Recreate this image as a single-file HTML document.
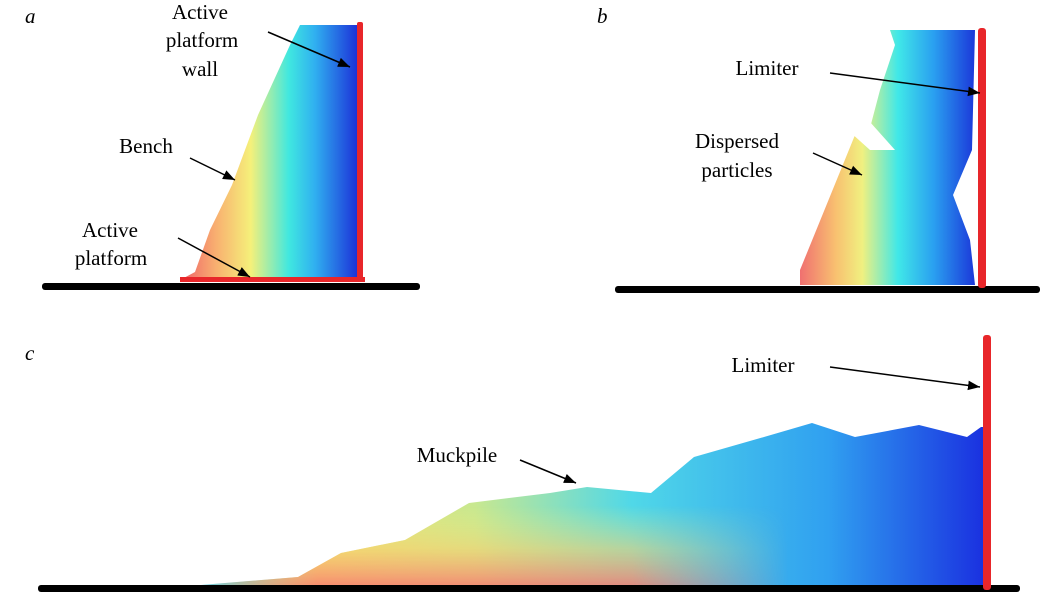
<!DOCTYPE html>
<html><head><meta charset="utf-8"><style>
html,body{margin:0;padding:0;background:#fff;}
svg{display:block;}
text{font-family:"Liberation Serif",serif;font-size:21px;fill:#000;}
</style></head><body>
<svg width="1040" height="608" viewBox="0 0 1040 608" xmlns="http://www.w3.org/2000/svg">
<defs>
<linearGradient id="ga" gradientUnits="userSpaceOnUse" x1="185" y1="0" x2="358" y2="0">
<stop offset="0" stop-color="#f06a6a"/><stop offset="0.18" stop-color="#f8b070"/><stop offset="0.38" stop-color="#f5f07a"/><stop offset="0.6" stop-color="#40e8e0"/><stop offset="0.75" stop-color="#30b0f0"/><stop offset="1" stop-color="#1c30d8"/>
</linearGradient>
<linearGradient id="gb" gradientUnits="userSpaceOnUse" x1="800" y1="0" x2="978" y2="0">
<stop offset="0" stop-color="#f07070"/><stop offset="0.2" stop-color="#f8c070"/><stop offset="0.35" stop-color="#f0f080"/><stop offset="0.55" stop-color="#40e8e8"/><stop offset="0.75" stop-color="#2aa0f0"/><stop offset="1" stop-color="#1a30d8"/>
</linearGradient>
<linearGradient id="gc" gradientUnits="userSpaceOnUse" x1="200" y1="0" x2="985" y2="0">
<stop offset="0" stop-color="#60d0e8"/><stop offset="0.15" stop-color="#f0e070"/><stop offset="0.35" stop-color="#c8e890"/><stop offset="0.55" stop-color="#50d8e8"/><stop offset="0.8" stop-color="#30a0f0"/><stop offset="1" stop-color="#1a30e0"/>
</linearGradient>
<linearGradient id="gcv" gradientUnits="userSpaceOnUse" x1="0" y1="585" x2="0" y2="440">
<stop offset="0" stop-color="#f88070" stop-opacity="0.85"/><stop offset="0.25" stop-color="#f8d070" stop-opacity="0.6"/><stop offset="0.55" stop-color="#f0f080" stop-opacity="0"/>
</linearGradient>
<linearGradient id="gcm" gradientUnits="userSpaceOnUse" x1="200" y1="0" x2="985" y2="0">
<stop offset="0" stop-color="#fff" stop-opacity="0"/><stop offset="0.15" stop-color="#fff" stop-opacity="1"/><stop offset="0.55" stop-color="#fff" stop-opacity="1"/><stop offset="0.75" stop-color="#fff" stop-opacity="0"/>
</linearGradient>
<mask id="mc"><rect x="0" y="0" width="1040" height="608" fill="url(#gcm)"/></mask>
<marker id="ar" viewBox="0 0 10 10" refX="10" refY="5" markerWidth="8" markerHeight="8" orient="auto-start-reverse"><path d="M0,1 L10,5 L0,9 Z" fill="#000"/></marker>
</defs>

<!-- Panel a -->
<polygon points="300,25 358,25 358,280 180,280 195,272 210,230 232,185 258,115 290,45" fill="url(#ga)"/>
<rect x="42" y="283" width="378" height="7" rx="3" fill="#000"/>
<rect x="180" y="277" width="185" height="5" fill="#e8262a"/>
<rect x="357" y="22" width="6" height="260" rx="2" fill="#e8262a"/>
<text x="25" y="23" font-style="italic">a</text>
<text x="200" y="19" text-anchor="middle">Active</text>
<text x="202" y="47" text-anchor="middle">platform</text>
<text x="200" y="76" text-anchor="middle">wall</text>
<line x1="268" y1="32" x2="350" y2="67" stroke="#000" stroke-width="1.5" marker-end="url(#ar)"/>
<text x="146" y="153" text-anchor="middle">Bench</text>
<line x1="190" y1="158" x2="235" y2="180" stroke="#000" stroke-width="1.5" marker-end="url(#ar)"/>
<text x="110" y="237" text-anchor="middle">Active</text>
<text x="111" y="265" text-anchor="middle">platform</text>
<line x1="178" y1="238" x2="250" y2="277" stroke="#000" stroke-width="1.5" marker-end="url(#ar)"/>

<!-- Panel b -->
<polygon points="890,30 975,30 972,150 953,195 970,240 975,285 800,285 800,270 855,135 870,128 880,90 895,45" fill="url(#gb)"/>
<polygon points="850,132 870,122 895,150 870,150" fill="#fff"/>
<rect x="615" y="286" width="425" height="7" rx="3" fill="#000"/>
<rect x="978" y="28" width="8" height="260" rx="3" fill="#e8262a"/>
<text x="597" y="23" font-style="italic">b</text>
<text x="767" y="75" text-anchor="middle">Limiter</text>
<line x1="830" y1="73" x2="980" y2="93" stroke="#000" stroke-width="1.5" marker-end="url(#ar)"/>
<text x="737" y="148" text-anchor="middle">Dispersed</text>
<text x="737" y="177" text-anchor="middle">particles</text>
<line x1="813" y1="153" x2="862" y2="175" stroke="#000" stroke-width="1.5" marker-end="url(#ar)"/>

<!-- Panel c -->
<polygon points="201,585 298,577 341,553 405,540 469,503 550,493 587,487 651,493 694,457 764,437 812,423 855,437 919,425 967,437 981,427 984,427 984,586 201,586" fill="url(#gc)"/>
<polygon points="201,585 298,577 341,553 405,540 469,503 550,493 587,487 651,493 694,457 764,437 812,423 855,437 919,425 967,437 981,427 984,427 984,586 201,586" fill="url(#gcv)" mask="url(#mc)"/>
<rect x="38" y="585" width="982" height="7" rx="3" fill="#000"/>
<rect x="983" y="335" width="8" height="255" rx="3" fill="#e8262a"/>
<text x="25" y="360" font-style="italic">c</text>
<text x="763" y="372" text-anchor="middle">Limiter</text>
<line x1="830" y1="367" x2="980" y2="387" stroke="#000" stroke-width="1.5" marker-end="url(#ar)"/>
<text x="457" y="462" text-anchor="middle">Muckpile</text>
<line x1="520" y1="460" x2="576" y2="483" stroke="#000" stroke-width="1.5" marker-end="url(#ar)"/>
</svg>
</body></html>
